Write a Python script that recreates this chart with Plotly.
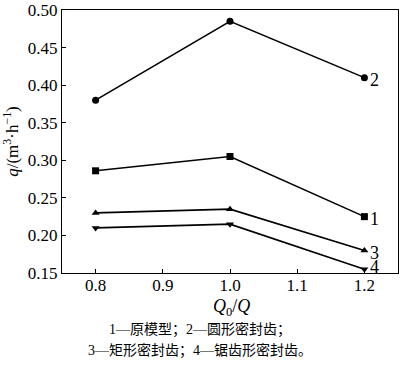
import plotly.graph_objects as go

x_vals = [0.8, 1.0, 1.2]
s1 = [0.286, 0.305, 0.225]
s2 = [0.380, 0.485, 0.410]
s3 = [0.230, 0.235, 0.180]
s4 = [0.210, 0.215, 0.155]
series = [("1", s1, "square"), ("2", s2, "circle"), ("3", s3, "triangle-up"), ("4", s4, "triangle-down")]
label_yshift = {"1": -2, "2": -2, "3": -3, "4": 2}
x_ticks = [0.8, 0.9, 1.0, 1.1, 1.2]
x_ticklabels = ["0.8", "0.9", "1.0", "1.1", "1.2"]
y_ticks = [0.15, 0.20, 0.25, 0.30, 0.35, 0.40, 0.45, 0.50]
y_ticklabels = ["0.15", "0.20", "0.25", "0.30", "0.35", "0.40", "0.45", "0.50"]
caption1 = "1—原模型；2—圆形密封齿；"
caption2 = "3—矩形密封齿；4—锯齿形密封齿。"

FONT = "Liberation Serif, serif"
CJK = "Liberation Serif, Noto Sans CJK SC"

fig = go.Figure()
for name, ys, sym in series:
    fig.add_trace(go.Scatter(
        x=x_vals, y=ys, mode="lines+markers", name=name,
        line=dict(color="black", width=1.6),
        marker=dict(symbol=sym, size=7, color="black"),
        showlegend=False, hoverinfo="skip",
    ))
    fig.add_annotation(x=x_vals[-1], y=ys[-1], text=name, showarrow=False,
                       xanchor="left", xshift=4, yshift=label_yshift[name],
                       font=dict(family=FONT, size=18, color="black"))

fig.add_annotation(xref="paper", x=0.504, yref="paper", y=-0.131, yanchor="middle",
                   text="<i>Q</i><sub>0</sub>/<i>Q</i>", showarrow=False,
                   font=dict(family=FONT, size=18, color="black"))
fig.add_annotation(xref="paper", x=0.41, yref="paper", y=-0.215, yanchor="middle",
                   text=caption1, showarrow=False,
                   font=dict(family=CJK, size=14, color="black"))
fig.add_annotation(xref="paper", x=0.41, yref="paper", y=-0.294, yanchor="middle",
                   text=caption2, showarrow=False,
                   font=dict(family=CJK, size=14, color="black"))

fig.update_xaxes(range=[0.75, 1.25], tickvals=x_ticks, ticktext=x_ticklabels,
                 ticks="inside", ticklen=4, tickcolor="black", showgrid=False, zeroline=False,
                 showline=True, linecolor="black", linewidth=1.2, mirror=True,
                 ticklabeloverflow="allow", ticklabelstandoff=-4,
                 tickfont=dict(family=FONT, size=17, color="black"))
fig.update_yaxes(range=[0.15, 0.50], tickvals=y_ticks, ticktext=y_ticklabels,
                 ticks="inside", ticklen=4, tickcolor="black", showgrid=False, zeroline=False,
                 showline=True, linecolor="black", linewidth=1.2, mirror=True,
                 ticklabeloverflow="allow",
                 tickfont=dict(family=FONT, size=17, color="black"),
                 title=dict(text="<i>q</i>/(m<sup>3</sup>·h<sup>−1</sup>)", standoff=4,
                            font=dict(family=FONT, size=17, color="black")))

fig.update_layout(width=400, height=368, margin=dict(l=62, r=1, t=6, b=95),
                  plot_bgcolor="white", paper_bgcolor="white",
                  font=dict(family=FONT, color="black"))
fig.write_html("out.html", config={"displayModeBar": False},
               post_script="document.body.style.margin='0';")
